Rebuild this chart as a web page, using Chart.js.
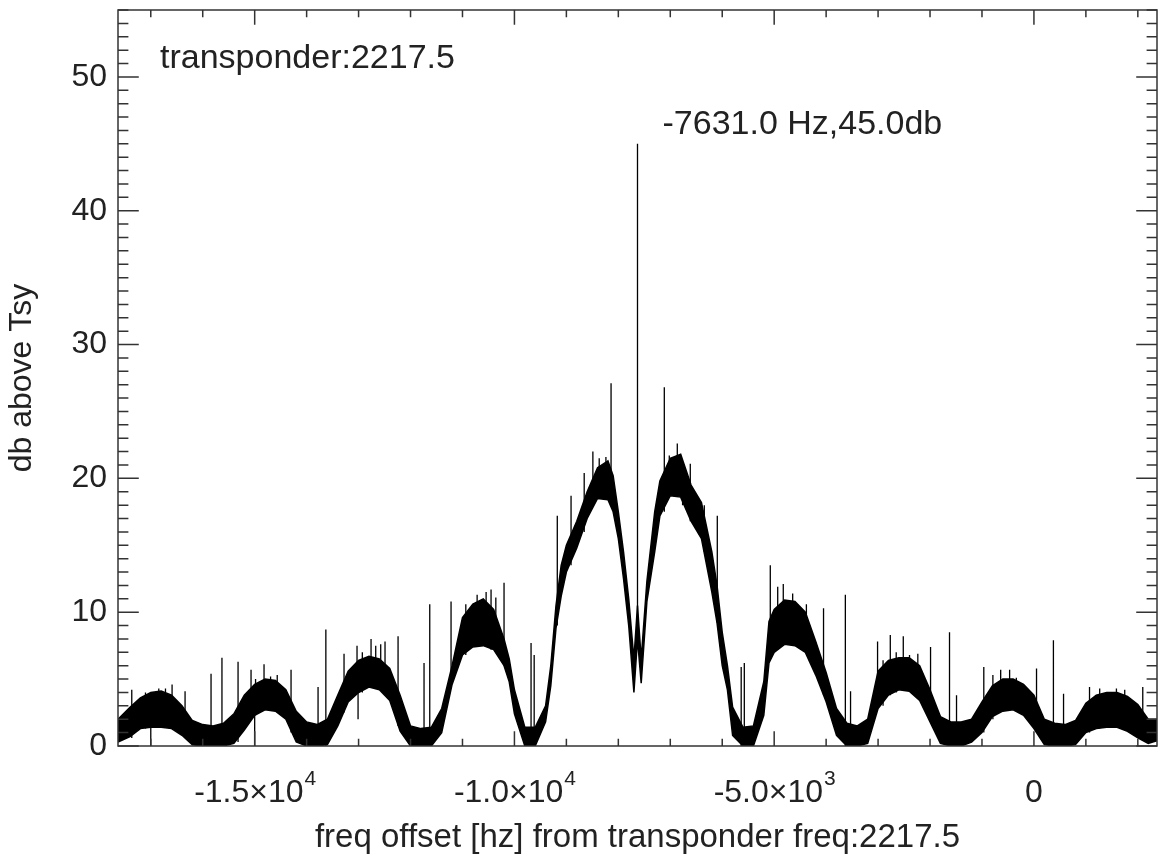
<!DOCTYPE html>
<html>
<head>
<meta charset="utf-8">
<title>transponder 2217.5 spectrum</title>
<script src="https://cdn.jsdelivr.net/npm/chart.js@4.4.1/dist/chart.umd.min.js"></script>
<style>
  html, body { margin: 0; padding: 0; background: #fff; }
  #wrap { width: 1158px; height: 861px; }
</style>
</head>
<body>
<div id="wrap"><canvas id="myChart" width="1158" height="861"></canvas></div>
<script>
// spectrum: frequency offset (Hz), top and bottom of the noisy band (db)
const freqHz = [
  -17631, -17400, -17200, -17000, -16800, -16600, -16400, -16200, -16000, -15800,
  -15600, -15400, -15200, -15000, -14800, -14600, -14400, -14200, -14000, -13800,
  -13600, -13400, -13200, -13000, -12800, -12600, -12400, -12200, -12000, -11800,
  -11600, -11400, -11200, -11000, -10800, -10600, -10400, -10200, -10100, -10000,
  -9800, -9600, -9400, -9300, -9200, -9100, -9000, -8800, -8600, -8400,
  -8200, -8100, -8000, -7900, -7800, -7700, -7631, -7560, -7450, -7300,
  -7200, -7000, -6800, -6600, -6400, -6200, -6100, -6000, -5900, -5800,
  -5600, -5400, -5200, -5100, -5000, -4800, -4600, -4400, -4200, -4000,
  -3800, -3600, -3400, -3200, -3000, -2800, -2600, -2400, -2200, -2000,
  -1800, -1600, -1400, -1200, -1000, -800, -600, -400, -200, 0,
  200, 400, 600, 800, 1000, 1200, 1400, 1600, 1800, 2000,
  2200, 2369
];
const upperDb = [
  2.0, 2.9, 3.6, 4.0, 4.1, 3.8, 3.0, 1.9, 1.6, 1.5,
  1.7, 2.4, 3.8, 4.6, 5.0, 4.9, 4.2, 2.6, 1.8, 1.6,
  2.0, 3.8, 5.6, 6.4, 6.7, 6.5, 5.8, 3.8, 1.5, 1.3,
  1.4, 2.8, 6.0, 9.6, 10.6, 11.0, 10.2, 8.0, 6.5, 4.2,
  1.4, 1.4, 3.0, 6.0, 10.5, 13.5, 15.0, 16.8, 19.0, 20.8,
  21.3, 20.2, 17.5, 14.5, 11.0, 6.5, 10.5, 6.5, 12.3, 17.5,
  19.8, 21.5, 21.8, 19.5, 18.2, 14.5, 12.0, 8.5, 6.0, 2.9,
  1.4, 1.5, 4.8, 9.3, 10.2, 10.9, 10.8, 10.0, 7.8, 5.5,
  2.8, 1.7, 1.5, 2.0, 5.6, 6.4, 6.6, 6.6, 6.0, 4.2,
  2.2, 1.8, 1.8, 2.0, 3.3, 4.5, 5.0, 5.0, 4.6, 3.8,
  2.0, 1.7, 1.6, 1.9, 3.2, 3.8, 4.0, 4.0, 3.7, 3.1,
  2.0, 2.0
];
const lowerDb = [
  0.3, 0.7, 1.3, 1.4, 1.4, 1.3, 0.8, 0.1, 0, 0,
  0, 0.2, 1.2, 2.3, 2.7, 2.6, 2.0, 0.3, 0, 0,
  0.1, 1.5, 3.3, 4.0, 4.4, 4.2, 3.4, 1.1, 0, 0,
  0, 1.0, 4.6, 6.8, 7.4, 7.5, 7.2, 6.0, 4.8, 2.4,
  0, 0, 1.8, 4.5, 8.8, 11.2, 13.0, 14.8, 17.0, 18.5,
  18.4, 17.5, 15.5, 12.5, 9.0, 4.0, 8.0, 4.7, 10.8, 14.5,
  17.2, 18.7, 18.6, 16.8, 15.5, 11.5, 9.2, 6.0, 4.2, 0.8,
  0, 0, 2.3, 6.2, 7.0, 7.6, 7.5, 7.0, 5.3, 3.3,
  0.8, 0, 0, 0.2, 2.8, 3.8, 4.2, 4.1, 3.4, 1.8,
  0.2, 0, 0, 0.3, 1.0, 2.2, 2.6, 2.7, 2.3, 1.3,
  0.1, 0, 0, 0.1, 1.0, 1.3, 1.4, 1.4, 1.1, 0.6,
  0.2, 0.4
];

// single-channel spikes and hairs: position (Hz), foot and tip (db)
const spikeHz = [
  -17366, -16590, -16340, -15840, -15630, -15320, -15070, -14820, -14300, -13780,
  -13630, -13280, -13030, -12760, -12240, -11740, -11630, -11220, -10450, -10200,
  -9680, -9620, -9175, -8910, -8490, -8140, -7631, -7115, -6865, -6615,
  -6345, -6095, -5635, -5575, -5075, -4825, -4380, -4050, -3630, -3530,
  -3010, -2765, -2515, -1990, -1625, -1490, -965, -640, 50, 375,
  570, 1070, 2095, -17000, -15000, -13010,
  -17102, -16975, -16846, -16717, -14983, -14694, -14566, -12928, -12670, -12574,
  -12491, -10936, -10718, -10545, -10358, -8657, -8368, -8239, -7019, -6763,
  -6538, -6441, -4932, -4644, -4547, -2904, -2651, -2395, -2235, -790,
  -468, -339, 1266, 1588, 1748
];
const spikeFoot = [
  0.6, 1.3, 0.6, 0, 0, 0.3, 2.0, 2.7, 1.0, 0,
  0, 2.5, 4.0, 4.4, 1.5, 0, 0, 4.5, 7.2, 6.0,
  0, 0, 9.0, 13.5, 18.0, 18.0, 8.0, 17.5, 18.6, 16.8,
  14.5, 9.2, 0, 0, 6.5, 7.6, 7.0, 3.8, 0, 0,
  2.8, 3.8, 4.2, 1.8, 0, 0, 1.0, 2.6, 1.0, 0,
  0, 1.0, 0.6, 0, 0, 2.0,
  1.3, 1.4, 1.4, 1.4, 2.3, 2.7, 2.6, 4.0, 4.3, 4.3,
  4.2, 6.8, 7.4, 7.5, 7.3, 16.0, 18.5, 18.4, 18.7, 18.0,
  16.5, 15.8, 7.2, 7.5, 7.4, 3.0, 4.0, 4.2, 3.8, 2.0,
  2.7, 2.6, 1.3, 1.4, 1.3
];
const spikeTip = [
  4.2, 4.6, 4.1, 5.4, 6.6, 6.3, 5.7, 6.1, 5.7, 4.4,
  8.7, 6.9, 7.5, 8.0, 8.2, 6.2, 10.6, 10.8, 11.7, 12.2,
  7.7, 6.8, 17.2, 18.7, 22.0, 27.1, 45.0, 26.8, 22.6, 21.1,
  18.0, 17.2, 5.9, 6.2, 13.5, 12.1, 10.6, 10.3, 11.3, 4.1,
  7.8, 8.3, 8.2, 7.4, 8.5, 3.8, 5.9, 5.7, 5.8, 7.9,
  3.9, 4.4, 4.4, 1.4, 2.3, 4.0,
  4.0, 3.9, 4.3, 4.3, 5.0, 5.2, 5.3, 7.0, 7.5, 7.6,
  7.8, 10.6, 11.3, 11.5, 11.1, 20.4, 21.5, 21.6, 21.7, 20.9,
  18.9, 18.3, 11.9, 11.4, 10.6, 6.4, 7.0, 6.8, 6.9, 5.3,
  5.7, 5.1, 4.3, 4.3, 4.2
];

const peakHz = -7631.0;
const peakDb = 45.0;
const transponder = '2217.5';

const xTickValues = [-15000, -10000, -5000, 0];
const xTickMantissa = ['-1.5', '-1.0', '-5.0', '0'];
const xTickExponent = ['4', '4', '3', ''];
const yTickValues = [0, 10, 20, 30, 40, 50];

const FAMILY = "'Liberation Sans', Arial, Helvetica, sans-serif";
const FONT = { family: FAMILY, size: 32 };
const INK = '#222';

const upper = freqHz.map((f, i) => ({ x: f, y: upperDb[i] }));
const lower = freqHz.map((f, i) => ({ x: f, y: lowerDb[i] }));
const spikes = [];
spikeHz.forEach((f, i) => {
  spikes.push({ x: f, y: spikeFoot[i] }, { x: f, y: spikeTip[i] }, { x: f, y: null });
});

// IDL-style frame: box with inward major/minor ticks on all four sides, x labels with exponents, text labels
const frameTicks = {
  id: 'frameTicks',
  afterDatasetsDraw(chart) {
    const { ctx, chartArea: a, scales: { x, y } } = chart;
    const w = a.right - a.left, h = a.bottom - a.top;
    ctx.save();
    ctx.strokeStyle = '#333';
    ctx.lineWidth = 1.5;
    ctx.strokeRect(a.left, a.top, w, h);
    ctx.beginPath();
    for (let v = -17000; v <= 2000; v += 1000) {
      const px = x.getPixelForValue(v);
      const len = xTickValues.includes(v) ? 0.02 * h : 0.01 * h;
      ctx.moveTo(px, a.bottom); ctx.lineTo(px, a.bottom - len);
      ctx.moveTo(px, a.top); ctx.lineTo(px, a.top + len);
    }
    for (let v = 0; v <= 55; v += 1) {
      const py = y.getPixelForValue(v);
      const len = yTickValues.includes(v) ? 0.02 * w : 0.01 * w;
      ctx.moveTo(a.left, py); ctx.lineTo(a.left + len, py);
      ctx.moveTo(a.right, py); ctx.lineTo(a.right - len, py);
    }
    ctx.stroke();

    ctx.fillStyle = INK;
    ctx.textBaseline = 'alphabetic';
    ctx.textAlign = 'left';

    // x tick labels: mantissa×10 with raised exponent, centred on the tick
    const baseFont = `32px ${FAMILY}`, expFont = `21px ${FAMILY}`;
    const labelBase = a.bottom + 56;
    xTickValues.forEach((v, i) => {
      const main = xTickExponent[i] ? xTickMantissa[i] + '×10' : xTickMantissa[i];
      ctx.font = baseFont;
      const mw = ctx.measureText(main).width;
      ctx.font = expFont;
      const ew = xTickExponent[i] ? ctx.measureText(xTickExponent[i]).width : 0;
      const left = x.getPixelForValue(v) - (mw + ew) / 2;
      ctx.font = baseFont;
      ctx.fillText(main, left, labelBase);
      if (ew) {
        ctx.font = expFont;
        ctx.fillText(xTickExponent[i], left + mw + 1, labelBase - 17);
      }
    });

    ctx.font = `34px ${FAMILY}`;
    ctx.fillText('transponder:' + transponder, a.left + 42, a.top + 58);
    const label = `${peakHz.toFixed(1)} Hz,${peakDb.toFixed(1)}db`;
    ctx.fillText(label, x.getPixelForValue(peakHz) + 25, y.getPixelForValue(peakDb) - 10);
    ctx.restore();
  }
};

const ctx = document.getElementById('myChart').getContext('2d');

const data = {
  datasets: [
    {
      label: 'band bottom',
      data: lower,
      borderColor: '#000',
      borderWidth: 1.5,
      pointRadius: 0,
      fill: false
    },
    {
      label: 'band top',
      data: upper,
      borderColor: '#000',
      borderWidth: 1.5,
      pointRadius: 0,
      backgroundColor: '#000',
      fill: 0
    },
    {
      label: 'spikes',
      data: spikes,
      borderColor: '#000',
      borderWidth: 1.3,
      pointRadius: 0,
      spanGaps: false,
      fill: false
    }
  ]
};

const config = {
  type: 'line',
  data: data,
  plugins: [frameTicks],
  options: {
    responsive: false,
    animation: false,
    devicePixelRatio: 1,
    layout: { padding: { top: 10, right: 1, bottom: 0, left: 0 } },
    plugins: {
      legend: { display: false },
      tooltip: { enabled: false }
    },
    scales: {
      x: {
        type: 'linear',
        min: peakHz - 10000,
        max: peakHz + 10000,
        grid: { display: false, drawTicks: false },
        border: { display: false },
        afterBuildTicks: (axis) => { axis.ticks = xTickValues.map(v => ({ value: v })); },
        afterFit: (axis) => { axis.height = 115; axis.paddingLeft = 0; axis.paddingRight = 0; },
        ticks: { display: false },
        title: {
          display: true,
          text: 'freq offset [hz] from transponder freq:' + transponder,
          font: { family: FAMILY, size: 33 },
          color: INK,
          padding: { top: 0, bottom: 3 }
        }
      },
      y: {
        min: 0,
        max: 55,
        grid: { display: false, drawTicks: false },
        border: { display: false },
        afterBuildTicks: (axis) => { axis.ticks = yTickValues.map(v => ({ value: v })); },
        afterFit: (axis) => { axis.width = 118; axis.paddingTop = 0; axis.paddingBottom = 0; },
        ticks: {
          font: FONT,
          color: INK,
          padding: 11
        },
        title: {
          display: true,
          text: 'db above Tsy',
          font: FONT,
          color: INK,
          padding: { top: 3, bottom: 0 }
        }
      }
    }
  }
};

const myChart = new Chart(ctx, config);
</script>
</body>
</html>
